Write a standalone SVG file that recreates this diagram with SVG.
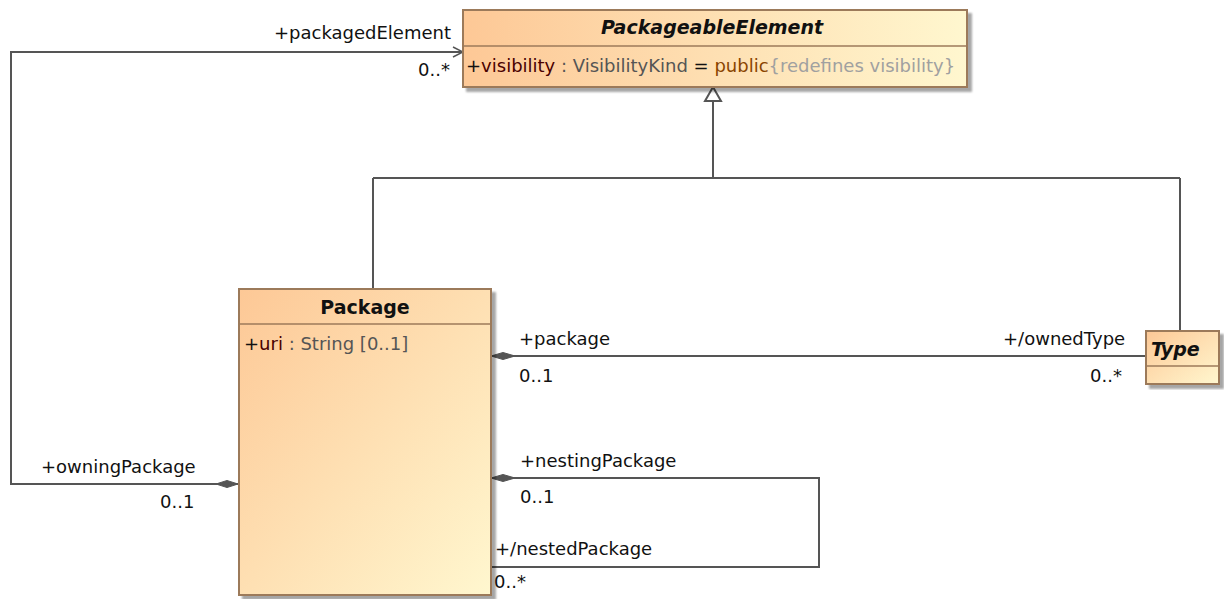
<svg xmlns="http://www.w3.org/2000/svg" width="1224" height="599" viewBox="0 0 1224 599">
<defs>
<linearGradient id="fill" x1="0" y1="0" x2="1" y2="1">
<stop offset="0" stop-color="#FDC896"/>
<stop offset="1" stop-color="#FFF7CF"/>
</linearGradient>
<linearGradient id="fillH" x1="0" y1="0" x2="1" y2="0">
<stop offset="0" stop-color="#FDC896"/>
<stop offset="1" stop-color="#FFF7CF"/>
</linearGradient>
<filter id="sh" x="-5%" y="-5%" width="115%" height="115%">
<feOffset dx="4" dy="4" in="SourceAlpha" result="o"/>
<feGaussianBlur in="o" stdDeviation="1" result="b"/>
<feComponentTransfer in="b" result="c"><feFuncA type="linear" slope="0.35"/></feComponentTransfer>
<feMerge><feMergeNode in="c"/><feMergeNode in="SourceGraphic"/></feMerge>
</filter>
<marker id="open" viewBox="0 0 12 12" refX="11" refY="6" markerWidth="12" markerHeight="12" markerUnits="userSpaceOnUse" orient="auto">
<path d="M1,1 L11,6 L1,11" fill="none" stroke="#555" stroke-width="1.5"/>
</marker>
</defs>
<style>
text{font-family:"DejaVu Sans","Liberation Sans",sans-serif;font-size:18px;fill:#111}
.title{font-weight:bold;font-size:19px}
.it{font-style:italic}
.box{stroke:#9C7A5A;stroke-width:2;filter:url(#sh)}
.div{stroke:#9C7A5A;stroke-width:1.5}
.ln{fill:none;stroke:#555;stroke-width:2}
.dia{fill:#555;stroke:#555;stroke-width:1}
.mr{fill:#4A0000}
.gr{fill:#555}
.br{fill:#8A4500}
.lg{fill:#A0A0A0}
</style>

<g id="connectors">
<path class="ln" d="M238,484 L11,484 L11,52 L463,52" marker-end="url(#open)"/>
<path class="ln" d="M713,101 L713,178 M373,178 L1180,178 M373,178 L373,289 M1180,178 L1180,331"/>
<path d="M713,87 L721,101 L705,101 Z" fill="#fff" stroke="#555" stroke-width="2"/>
<path class="ln" d="M491,356 L1146,356"/>
<path class="dia" d="M491,356 L503,352.5 L515,356 L503,359.5 Z"/>
<path class="dia" d="M238,484 L227,480.5 L216,484 L227,487.5 Z"/>
<path class="ln" d="M491,478 L819,478 L819,567 L491,567"/>
<path class="dia" d="M491,478 L503,474.5 L515,478 L503,481.5 Z"/>
<text x="274" y="39">+packagedElement</text>
<text x="418" y="76">0..*</text>
<text x="519" y="345">+package</text>
<text x="519" y="382">0..1</text>
<text x="1003" y="345">+/ownedType</text>
<text x="1090" y="382">0..*</text>
<text x="41" y="473">+owningPackage</text>
<text x="160" y="508">0..1</text>
<text x="520" y="467">+nestingPackage</text>
<text x="520" y="503">0..1</text>
<text x="495" y="555">+/nestedPackage</text>
<text x="494" y="588">0..*</text>
</g>

<g id="PackageableElement">
<rect class="box" x="463" y="10" width="504" height="77" fill="url(#fillH)"/>
<line class="div" x1="463" y1="46" x2="967" y2="46"/>
<text class="title it" x="712" y="34" text-anchor="middle">PackageableElement</text>
<text x="466" y="72">+<tspan class="mr">visibility</tspan><tspan class="gr"> : VisibilityKind </tspan>=<tspan class="br"> public</tspan><tspan class="lg">{redefines visibility}</tspan></text>
</g>

<g id="Package">
<rect class="box" x="239" y="289" width="252" height="306" fill="url(#fill)"/>
<line class="div" x1="239" y1="324" x2="491" y2="324"/>
<text class="title" x="365" y="314" text-anchor="middle">Package</text>
<text x="244" y="350">+<tspan class="mr">uri</tspan><tspan class="gr"> : String [0..1]</tspan></text>
</g>

<g id="Type">
<rect class="box" x="1146" y="331" width="73" height="53" fill="url(#fill)"/>
<line class="div" x1="1146" y1="366" x2="1219" y2="366"/>
<text class="title it" x="1151" y="356">Type</text>
</g>
</svg>
